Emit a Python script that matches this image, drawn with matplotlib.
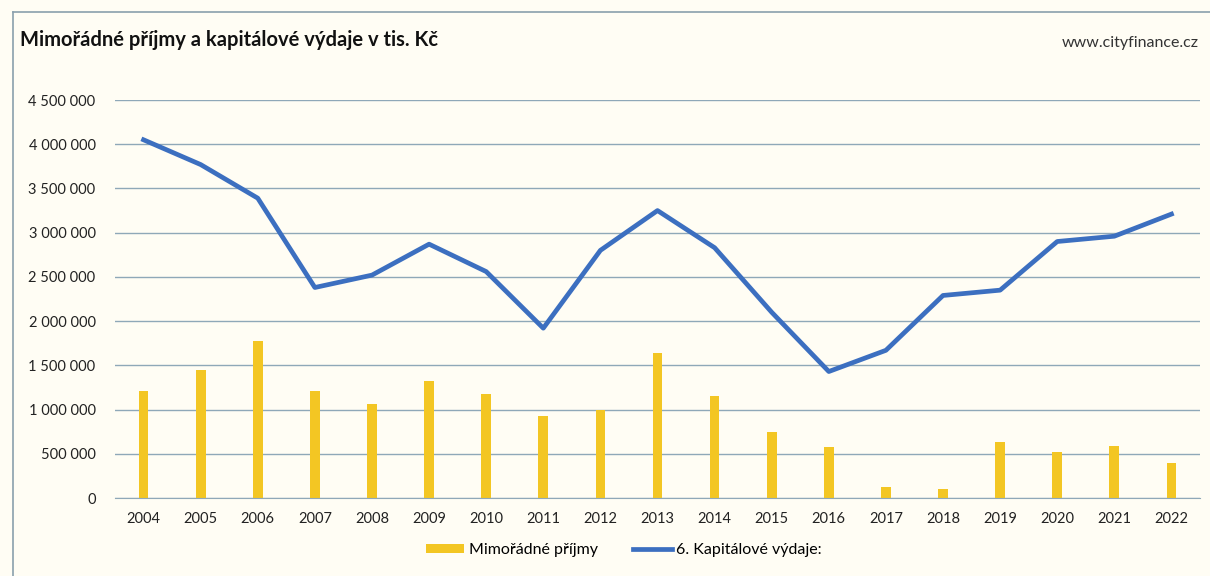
import numpy as np
import matplotlib.pyplot as plt
from matplotlib.ticker import FuncFormatter

years = [str(y) for y in range(2004, 2023)]
mimoradne_prijmy = [1210000, 1450000, 1780000, 1210000, 1060000, 1320000, 1180000, 930000, 1000000,
                    1640000, 1150000, 750000, 580000, 120000, 100000, 630000, 520000, 590000, 400000]
kapitalove_vydaje = [4050000, 3770000, 3390000, 2380000, 2520000, 2870000, 2560000, 1920000, 2800000,
                     3250000, 2830000, 2100000, 1430000, 1670000, 2290000, 2350000, 2900000, 2960000, 3210000]

bg = '#fffdf4'
grid_c = '#8fa8b8'
plt.rcParams['font.family'] = ['Lato', 'DejaVu Sans']

fig = plt.figure(figsize=(12.1, 5.76), dpi=100, facecolor=bg)
ax = fig.add_axes([115 / 1210, 1 - 498 / 576, 1085 / 1210, 398 / 576], facecolor=bg)

x = np.arange(len(years))
bars = ax.bar(x, mimoradne_prijmy, width=0.17, color='#f3c623', label='Mimořádné příjmy', zorder=2)
line, = ax.plot(x, kapitalove_vydaje, color='#3c6fc0', lw=3.4, label='6. Kapitálové výdaje:', zorder=3,
                solid_joinstyle='round')

ax.set_xlim(-0.5, len(years) - 0.5)
ax.set_ylim(0, 4500000)
ax.set_yticks(np.arange(0, 4500001, 500000))
ax.yaxis.set_major_formatter(FuncFormatter(lambda v, p: '{:,.0f}'.format(v).replace(',', ' ')))
ax.set_xticks(x)
ax.set_xticklabels(years)
ax.tick_params(axis='both', length=0, labelsize=10.5, colors='#222222')
ax.tick_params(axis='y', pad=14)
ax.tick_params(axis='x', pad=10)
ax.grid(axis='y', color=grid_c, lw=1.0, zorder=0)
for s in ['left', 'right', 'top']:
    ax.spines[s].set_visible(False)
ax.spines['bottom'].set_color(grid_c)

# outer chart frame
fig.add_artist(plt.Line2D([13 / 1210, 13 / 1210], [0, 1 - 12 / 576], color='#8aa0ad', lw=1.2))
fig.add_artist(plt.Line2D([13 / 1210, 1], [1 - 12 / 576, 1 - 12 / 576], color='#8aa0ad', lw=1.2))

fig.text(20 / 1210, 1 - 40 / 576, 'Mimořádné příjmy a kapitálové výdaje v tis. Kč',
         fontsize=14.5, fontweight='bold', va='center', ha='left', color='#111111')
fig.text(1199 / 1210, 1 - 43 / 576, 'www.cityfinance.cz', fontsize=11.5, va='center', ha='right',
         color='#333333')

fig.legend([bars, line], ['Mimořádné příjmy', '6. Kapitálové výdaje:'],
           loc='center', bbox_to_anchor=(624 / 1210, 1 - 550 / 576), ncol=2, frameon=False,
           fontsize=11.5, handlelength=2.4, handleheight=0.5, columnspacing=2.2, handletextpad=0.3)

fig.savefig('out.png', dpi=100, facecolor=bg)
